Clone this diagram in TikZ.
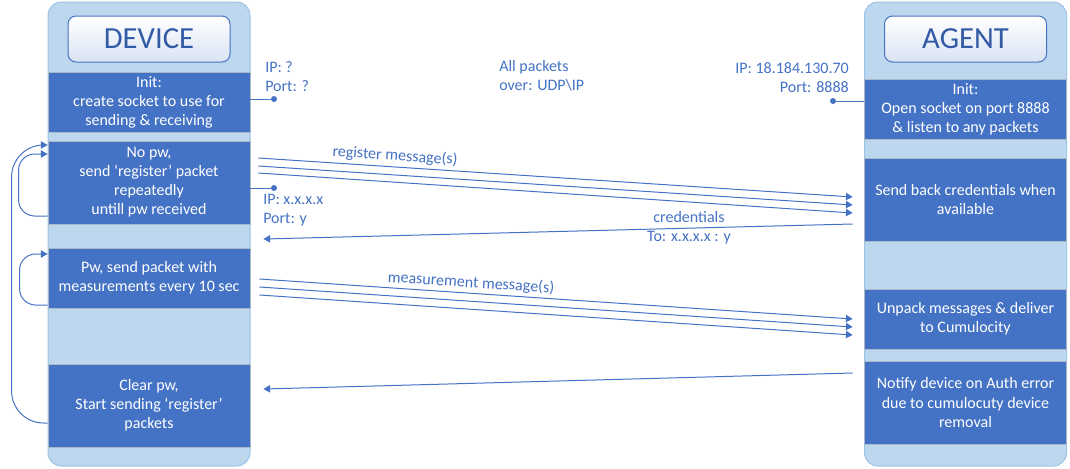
\documentclass[tikz,border=0pt]{standalone}
\usepackage{fontspec}
\setmainfont{Carlito}
\usetikzlibrary{arrows.meta,calc}
\definecolor{dk}{RGB}{68,114,196}
\definecolor{lite}{RGB}{189,215,238}
\definecolor{colborder}{RGB}{157,195,230}
\definecolor{boxedge}{RGB}{170,185,200}
\definecolor{titletext}{RGB}{50,90,165}
\definecolor{titlebot}{RGB}{218,227,243}
\begin{document}
\begin{tikzpicture}[x=0.75pt,y=-0.75pt,
  col/.style={draw=colborder, fill=lite, rounded corners=10pt, line width=0.75pt,
    minimum width=151.5pt, minimum height=348pt, inner sep=0pt},
  titlebox/.style={draw=dk, rounded corners=6pt, top color=white, bottom color=titlebot,
    minimum width=121.5pt, minimum height=34.5pt, inner sep=0pt, line width=0.75pt,
    text=titletext, font=\fontsize{23}{26}\selectfont},
  dbox/.style={draw=boxedge, fill=dk, text=white, minimum width=151.5pt, align=center,
    font=\fontsize{12}{14.3}\selectfont, inner sep=0pt, line width=0.6pt},
  short/.style={dbox, minimum height=45pt},
  tall/.style={dbox, minimum height=62.25pt},
  lbl/.style={text=dk, font=\fontsize{12}{14.3}\selectfont, inner sep=0pt},
  flow/.style={draw=dk, line width=0.75pt},
  arr/.style={flow, -{Triangle[length=5pt,width=5.5pt]}},
  dot/.style={circle, fill=dk, inner sep=0pt, minimum size=4.5pt}
]
\useasboundingbox (0,0) rectangle (1070,468);

% columns
\node[col] (devcol) at (149,234) {};
\node[col] (agcol) at (965.5,234) {};

% titles
\node[titlebox] (devtitle) at (149,39) {DEVICE};
\node[titlebox] (agtitle) at (965.5,39) {AGENT};

% device boxes
\node[short] (dinit) at (149,102) {Init:\\create socket to use for\\sending \& receiving};
\node[tall] (dnopw) at (149,182.5) {No pw,\\send ‘register’ packet\\repeatedly\\untill pw received};
\node[short] (dpw) at (149,278) {Pw, send packet with\\measurements every 10 sec};
\node[tall] (dclear) at (149,405.5) {Clear pw,\\Start sending ‘register’\\packets};

% agent boxes
\node[short] (ainit) at (965.5,109) {Init:\\Open socket on port 8888\\\& listen to any packets};
\node[tall] (asend) at (965.5,199.5) {Send back credentials when\\available};
\node[short] (aunpack) at (965.5,319) {Unpack messages \& deliver\\to Cumulocity};
\node[tall] (anotify) at (965.5,402.5) {Notify device on Auth error\\due to cumulocuty device\\removal};

% sockets
\node[dot] (dot1) at (274,99) {};
\draw[flow] ($(dinit.east)+(0,-3)$) -- (dot1);
\node[dot] (dot2) at (274,188) {};
\draw[flow] ($(dnopw.east)+(0,5.5)$) -- (dot2);
\node[dot] (dot3) at (833,101) {};
\draw[flow] (dot3) -- ($(ainit.west)+(0,-8)$);

% labels
\node[lbl, align=left, anchor=west] (ipq) at (265,76.5) {IP: ?\\Port: ?};
\node[lbl, align=left, anchor=west] (ipx) at (263,210.5) {IP: x.x.x.x\\Port: y};
\node[lbl, align=right, anchor=east] (ipa) at (849,77.5) {IP: 18.184.130.70\\Port: 8888};
\node[lbl, align=left, anchor=west] (allp) at (499,76) {All packets\\over: UDP\textbackslash IP};

% register messages
\coordinate (r1s) at ($(dnopw.east)+(8,-24.5)$);
\coordinate (r2s) at ($(dnopw.east)+(8,-16.5)$);
\coordinate (r3s) at ($(dnopw.east)+(8,-9.5)$);
\coordinate (r1e) at ($(asend.west)+(-11.5,-2.5)$);
\coordinate (r2e) at ($(asend.west)+(-11.5,5.5)$);
\coordinate (r3e) at ($(asend.west)+(-11.5,13.5)$);
\draw[arr] (r1s) -- (r1e);
\draw[arr] (r2s) -- (r2e);
\draw[arr] (r3s) -- (r3e);
\node[lbl, rotate=-3.75] (regl) at (395,156) {register message(s)};

% credentials
\coordinate (cs) at ($(asend.west)+(-11.5,24.5)$);
\coordinate (ce) at ($(dnopw.east)+(13,56.5)$);
\draw[arr] (cs) -- (ce);
\node[lbl, align=center] (credl) at (689,228) {credentials\\To: x.x.x.x : y};

% measurement messages
\coordinate (m1s) at ($(dpw.east)+(9,1)$);
\coordinate (m2s) at ($(dpw.east)+(9,9)$);
\coordinate (m3s) at ($(dpw.east)+(9,17)$);
\coordinate (m1e) at ($(aunpack.west)+(-11.5,0)$);
\coordinate (m2e) at ($(aunpack.west)+(-11.5,8)$);
\coordinate (m3e) at ($(aunpack.west)+(-11.5,16)$);
\draw[arr] (m1s) -- (m1e);
\draw[arr] (m2s) -- (m2e);
\draw[arr] (m3s) -- (m3e);
\node[lbl, rotate=-3.75] (measl) at (471,283) {measurement message(s)};

% auth error
\coordinate (ns) at ($(anotify.west)+(-11.5,-29.5)$);
\coordinate (ne) at ($(dclear.east)+(13,-16.5)$);
\draw[arr] (ns) -- (ne);

% loops
\coordinate (l1s) at ($(dnopw.west)+(0,33.5)$);
\coordinate (l1e) at ($(dnopw.west)+(0,-28.5)$);
\draw[arr, rounded corners=12pt] (l1s) -| ($(l1e)+(-29,0)$) -- (l1e);
\coordinate (l3s) at ($(dpw.west)+(0,27)$);
\coordinate (l3e) at ($(dpw.west)+(0,-24)$);
\draw[arr, rounded corners=12pt] (l3s) -| ($(l3e)+(-28,0)$) -- (l3e);
\coordinate (l2s) at ($(dclear.west)+(0,17.5)$);
\coordinate (l2e) at ($(dnopw.west)+(0,-37.5)$);
\draw[arr, rounded corners=24pt] (l2s) -| ($(l2e)+(-36,0)$) -- (l2e);
\end{tikzpicture}
\end{document}
